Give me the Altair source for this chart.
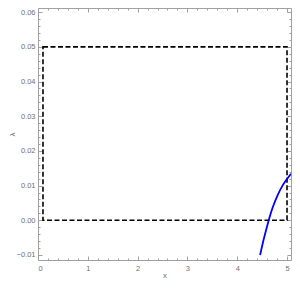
import altair as alt
import pandas as pd

# Data
curve_x = [4.46, 4.52, 4.58, 4.64, 4.71, 4.81, 4.91, 5.00, 5.08]
curve_y = [-0.0100, -0.0062, -0.0028, 0.0004, 0.0036, 0.0072, 0.0100, 0.0119, 0.0134]
box = {"x0": [0.1], "x1": [5.0], "y0": [0.0], "y1": [0.05]}
x_major = [0, 1, 2, 3, 4, 5]
x_minor = [round(0.2 * i, 2) for i in range(0, 26) if i % 5 != 0]
y_major = [-0.01, 0.0, 0.01, 0.02, 0.03, 0.04, 0.05, 0.06]
y_minor = [round(-0.01 + 0.002 * i, 4) for i in range(0, 36) if i % 5 != 0]

W, H = 253, 252
xdom = [0, 5.08]
ydom = [-0.01145, 0.0612]
GRAY = "#a0a0a0"
LBL = "#707070"
FONT = "Liberation Sans"

curve_df = pd.DataFrame({"x": curve_x, "y": curve_y})
box_df = pd.DataFrame(box)

xs = alt.Scale(domain=xdom, nice=False, zero=False)
ys = alt.Scale(domain=ydom, nice=False, zero=False)


def tick_axis(orient, offset, values, size):
    return alt.Axis(orient=orient, offset=offset, values=values, tickSize=size,
                    labels=False, domain=False, grid=False, title=None,
                    tickColor=GRAY, tickWidth=1)


box_layer = alt.Chart(box_df).mark_rect(
    fill=None, stroke="black", strokeWidth=1.6, strokeDash=[5, 2.5]
).encode(
    x=alt.X("x0:Q", scale=xs, axis=alt.Axis(
        orient="bottom", values=x_major, ticks=False, domain=False, grid=False,
        labelColor=LBL, labelFont=FONT, labelFontSize=7.5, labelPadding=4,
        format="d", title="x", titleColor=LBL, titleFont=FONT,
        titleFontSize=8, titleFontWeight="normal", titleY=15,
        titleBaseline="middle")),
    x2="x1:Q",
    y=alt.Y("y0:Q", scale=ys, axis=alt.Axis(
        orient="left", values=y_major, ticks=False, domain=False, grid=False,
        labelColor=LBL, labelFont=FONT, labelFontSize=7.5, labelPadding=3,
        format=".2f", title="λ", titleColor=LBL, titleFont=FONT,
        titleFontSize=8, titleFontWeight="normal", titleX=-26,
        titleY=H / 2, titleAngle=-90, titleBaseline="middle",
        titleAlign="center")),
    y2="y1:Q",
)

curve_layer = alt.Chart(curve_df).mark_line(
    color="#0000ff", strokeWidth=1.8, interpolate="monotone", clip=True
).encode(
    x=alt.X("x:Q", scale=xs, axis=tick_axis("top", -H, x_major, 4)),
    y=alt.Y("y:Q", scale=ys, axis=tick_axis("right", -W, y_major, 4)),
)


def ghost(xaxis, yaxis):
    return alt.Chart(curve_df).mark_point(opacity=0).encode(
        x=alt.X("x:Q", scale=xs, axis=xaxis),
        y=alt.Y("y:Q", scale=ys, axis=yaxis),
    )


g1 = ghost(tick_axis("top", -H, x_minor, 2), tick_axis("right", -W, y_minor, 2))
g2 = ghost(tick_axis("bottom", -H, x_major, 4), tick_axis("left", -W, y_major, 4))
g3 = ghost(tick_axis("bottom", -H, x_minor, 2), tick_axis("left", -W, y_minor, 2))

chart = alt.layer(box_layer, curve_layer, g1, g2, g3).resolve_axis(
    x="independent", y="independent"
).properties(
    width=W, height=H,
    autosize=alt.AutoSizeParams(type="none"),
    padding={"left": 30, "top": 0, "right": 1, "bottom": 21},
).configure_view(stroke=GRAY, strokeWidth=1)

chart.save("out.html", embed_options={"renderer": "svg", "actions": False})
